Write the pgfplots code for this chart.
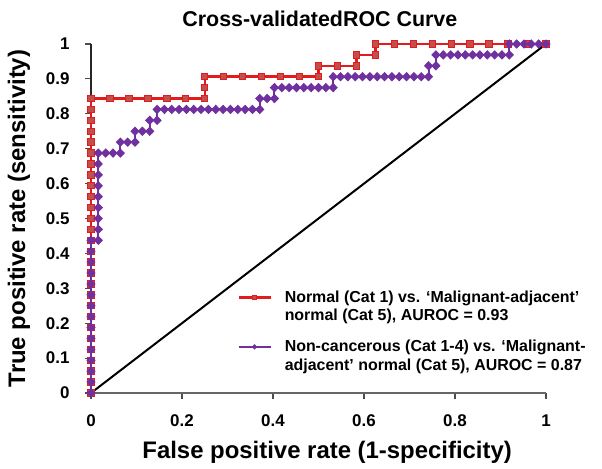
\documentclass[border=0pt]{standalone}
\usepackage{fontspec}
\setmainfont{Liberation Sans}
\usepackage{pgfplots}
\pgfplotsset{compat=1.18}

\definecolor{rocred}{HTML}{E31B1B}
\definecolor{rocredfill}{HTML}{C0504D}
\definecolor{rocpurple}{HTML}{7030A0}

% legend sample: a longer line, lifted to the middle of the first text line
\pgfplotsset{
  legend image code/.code={\draw[mark repeat=2,mark phase=2,#1] plot coordinates {(0bp,5bp)(16bp,5bp)(32bp,5bp)};},
  every legend image post/.style={mark size=2bp},
}

\begin{document}
\begin{tikzpicture}
\begin{axis}[
    name=ax,
    scale only axis,
    width=455bp, height=349bp,
    xmin=0, xmax=1, ymin=0, ymax=1,
    clip=false,
    axis lines=left,
    axis line style={-, line width=1.2bp},
    x axis line style={black!60},
    y axis line style={black!85},
    tick align=outside,
    major tick length=6bp,
    tick style={black!70, line width=1.2bp},
    xtick={0,0.2,0.4,0.6,0.8,1},
    ytick={0,0.1,0.2,0.3,0.4,0.5,0.6,0.7,0.8,0.9,1},
    /pgf/number format/assume math mode=true,
    ticklabel style={font=\fontsize{17}{20}\selectfont\bfseries},
    yticklabel style={xshift=-12bp},
    xticklabel style={yshift=-12bp},
    title={Cross-validatedROC Curve},
    every axis title/.style={at={(0.503,1.049)}, anchor=base, font=\fontsize{21.5}{24}\selectfont\bfseries},
    xlabel={False positive rate (1-specificity)},
    ylabel={True positive rate (sensitivity)},
    every axis x label/.style={at={(0.519,-0.189)}, anchor=base, font=\fontsize{24}{28}\selectfont\bfseries},
    every axis y label/.style={at={(-0.145,0.5)}, rotate=90, anchor=base, font=\fontsize{24}{28}\selectfont\bfseries},
    legend style={
        at={(0.321,0.302)}, anchor=north west,
        draw=none, fill=none, inner sep=0pt,
        column sep=11bp, row sep=31bp,
        cells={anchor=base west},
        nodes={inner sep=2bp},
        font=\fontsize{16}{18.3}\selectfont\bfseries,
    },
]
% Normal (Cat 1) vs. malignant-adjacent normal
\addplot[color=rocred, line width=2.5bp, mark=square*, mark size=3.2bp,
    mark options={fill=rocredfill, draw=rocred, line width=1bp}] coordinates {
    (0,0) (0,0.03125) (0,0.0625) (0,0.09375) (0,0.125) (0,0.15625) (0,0.1875)
    (0,0.21875) (0,0.25) (0,0.28125) (0,0.3125) (0,0.34375) (0,0.375) (0,0.40625)
    (0,0.4375) (0,0.46875) (0,0.5) (0,0.53125) (0,0.5625) (0,0.59375) (0,0.625)
    (0,0.65625) (0,0.6875) (0,0.71875) (0,0.75) (0,0.78125) (0,0.8125) (0,0.84375)
    (0.0417,0.84375) (0.0833,0.84375) (0.125,0.84375) (0.1667,0.84375) (0.2083,0.84375) (0.25,0.84375)
    (0.25,0.875) (0.25,0.90625)
    (0.2917,0.90625) (0.3333,0.90625) (0.375,0.90625) (0.4167,0.90625) (0.4583,0.90625) (0.5,0.90625)
    (0.5,0.9375) (0.5417,0.9375) (0.5833,0.9375)
    (0.5833,0.96875) (0.625,0.96875)
    (0.625,1) (0.6667,1) (0.7083,1) (0.75,1) (0.7917,1) (0.8333,1) (0.875,1) (0.9167,1) (0.9583,1) (1,1)
};
\addlegendentry{\begin{tabular}[t]{@{}l@{}}Normal (Cat 1) vs. ‘Malignant-adjacent’\\normal (Cat 5), AUROC = 0.93\end{tabular}}
% Non-cancerous (Cat 1-4) vs. malignant-adjacent normal
\addplot[color=rocpurple, line width=2bp, mark=diamond*, mark size=4bp,
    mark options={fill=rocpurple, draw=rocpurple, line width=1bp, xscale=1.3}] coordinates {
    (0,0) (0,0.03125) (0,0.0625) (0,0.09375) (0,0.125) (0,0.15625) (0,0.1875)
    (0,0.21875) (0,0.25) (0,0.28125) (0,0.3125) (0,0.34375) (0,0.375) (0,0.40625) (0,0.4375)
    (0.0161,0.4375) (0.0161,0.46875) (0.0161,0.5) (0.0161,0.53125) (0.0161,0.5625)
    (0.0161,0.59375) (0.0161,0.625) (0.0161,0.65625) (0.0161,0.6875)
    (0.0323,0.6875) (0.0484,0.6875) (0.0645,0.6875)
    (0.0645,0.71875) (0.0806,0.71875) (0.0968,0.71875)
    (0.0968,0.75) (0.1129,0.75) (0.129,0.75)
    (0.129,0.78125) (0.1452,0.78125)
    (0.1452,0.8125) (0.1613,0.8125) (0.1774,0.8125) (0.1935,0.8125) (0.2097,0.8125) (0.2258,0.8125)
    (0.2419,0.8125) (0.2581,0.8125) (0.2742,0.8125) (0.2903,0.8125) (0.3065,0.8125) (0.3226,0.8125)
    (0.3387,0.8125) (0.3548,0.8125) (0.371,0.8125)
    (0.371,0.84375) (0.3871,0.84375) (0.4032,0.84375)
    (0.4032,0.875) (0.4194,0.875) (0.4355,0.875) (0.4516,0.875) (0.4677,0.875) (0.4839,0.875)
    (0.5,0.875) (0.5161,0.875) (0.5323,0.875)
    (0.5323,0.90625) (0.5484,0.90625) (0.5645,0.90625) (0.5806,0.90625) (0.5968,0.90625) (0.6129,0.90625)
    (0.629,0.90625) (0.6452,0.90625) (0.6613,0.90625) (0.6774,0.90625) (0.6935,0.90625) (0.7097,0.90625)
    (0.7258,0.90625) (0.7419,0.90625)
    (0.7419,0.9375) (0.7581,0.9375)
    (0.7581,0.96875) (0.7742,0.96875) (0.7903,0.96875) (0.8065,0.96875) (0.8226,0.96875) (0.8387,0.96875)
    (0.8548,0.96875) (0.871,0.96875) (0.8871,0.96875) (0.9032,0.96875) (0.9194,0.96875)
    (0.9194,1) (0.9355,1) (0.9516,1) (0.9677,1) (0.9839,1) (1,1)
};
\addlegendentry{\begin{tabular}[t]{@{}l@{}}Non-cancerous (Cat 1-4) vs. ‘Malignant-\\adjacent’ normal (Cat 5), AUROC = 0.87\end{tabular}}
% chance line
\addplot[black, line width=2bp, forget plot] coordinates {(0,0) (1,1)};
\end{axis}
\pgfresetboundingbox
\path ([shift={(-91bp,-76bp)}]ax.south west) rectangle ([shift={(56bp,44bp)}]ax.north east);
\end{tikzpicture}
\end{document}
